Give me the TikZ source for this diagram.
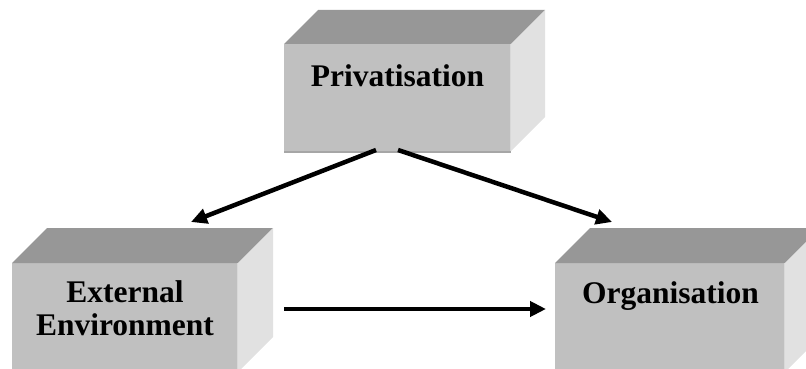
\documentclass[tikz,border=0pt]{standalone}
\usepackage{fontspec}
\setmainfont{Liberation Serif}
\usetikzlibrary{arrows.meta}
\definecolor{facefront}{HTML}{C0C0C0}
\definecolor{facetop}{HTML}{979797}
\definecolor{faceside}{HTML}{E1E1E1}
\definecolor{edgedark}{HTML}{A6A6A6}
\definecolor{edgelight}{HTML}{D8D8D8}
\tikzset{
  front/.style={fill=facefront, draw=none, inner sep=0pt, outer sep=0pt,
                anchor=north west},
  boxtext/.style={font=\fontsize{31.5}{33}\selectfont\bfseries, align=center,
                  anchor=base, inner sep=0pt},
  flow/.style={line width=4.5pt, -{Triangle[length=16pt,width=15pt]}},
}
% draw the top and side faces of a block behind its front face
\newcommand\blockfaces[2]{%
  \fill[facetop] (#1.north west) -- ++(#2,-#2)
    -- ([shift={(#2,-#2)}]#1.north east) -- (#1.north east) -- cycle;
  \fill[faceside] (#1.north east) -- ++(#2,-#2)
    -- ([shift={(#2,-#2)}]#1.south east) -- (#1.south east) -- cycle;
  \draw[edgedark, line width=1.5pt] ([yshift=-0.75]#1.south west) -- ([yshift=-0.75]#1.south east);
  \draw[edgelight, line width=1.5pt] ([xshift=-0.75]#1.north east) -- ([xshift=-0.75]#1.south east);
}
\begin{document}
\begin{tikzpicture}[x=1pt, y=-1pt]
  \useasboundingbox (0,0) rectangle (806,369);
  \clip (0,0) rectangle (806,369);

  % blocks
  \node[front, minimum width=227pt, minimum height=107pt] (priv) at (284,44) {};
  \blockfaces{priv}{34}
  \node[front, minimum width=226pt, minimum height=109pt] (ext) at (12,263) {};
  \blockfaces{ext}{35}
  \node[front, minimum width=230pt, minimum height=109pt] (org) at (555,263) {};
  \blockfaces{org}{35}

  % labels (a two-line label sits on the baseline of its last line)
  \node[boxtext] (privtext) at (397.5,86) {Privatisation};
  \node[boxtext] (exttext) at (125,335) {External\\Environment};
  \node[boxtext] (orgtext) at (670.5,303) {Organisation};

  % connector ends
  \coordinate (p1) at (376,150);
  \coordinate (p2) at (398,150);
  \coordinate (e1) at (191,222);
  \coordinate (o1) at (612,222);
  \coordinate (h1) at (284,309);
  \coordinate (h2) at (546,309);

  \draw[flow] (p1) -- (e1);
  \draw[flow] (p2) -- (o1);
  \draw[flow] (h1) -- (h2);
\end{tikzpicture}
\end{document}
